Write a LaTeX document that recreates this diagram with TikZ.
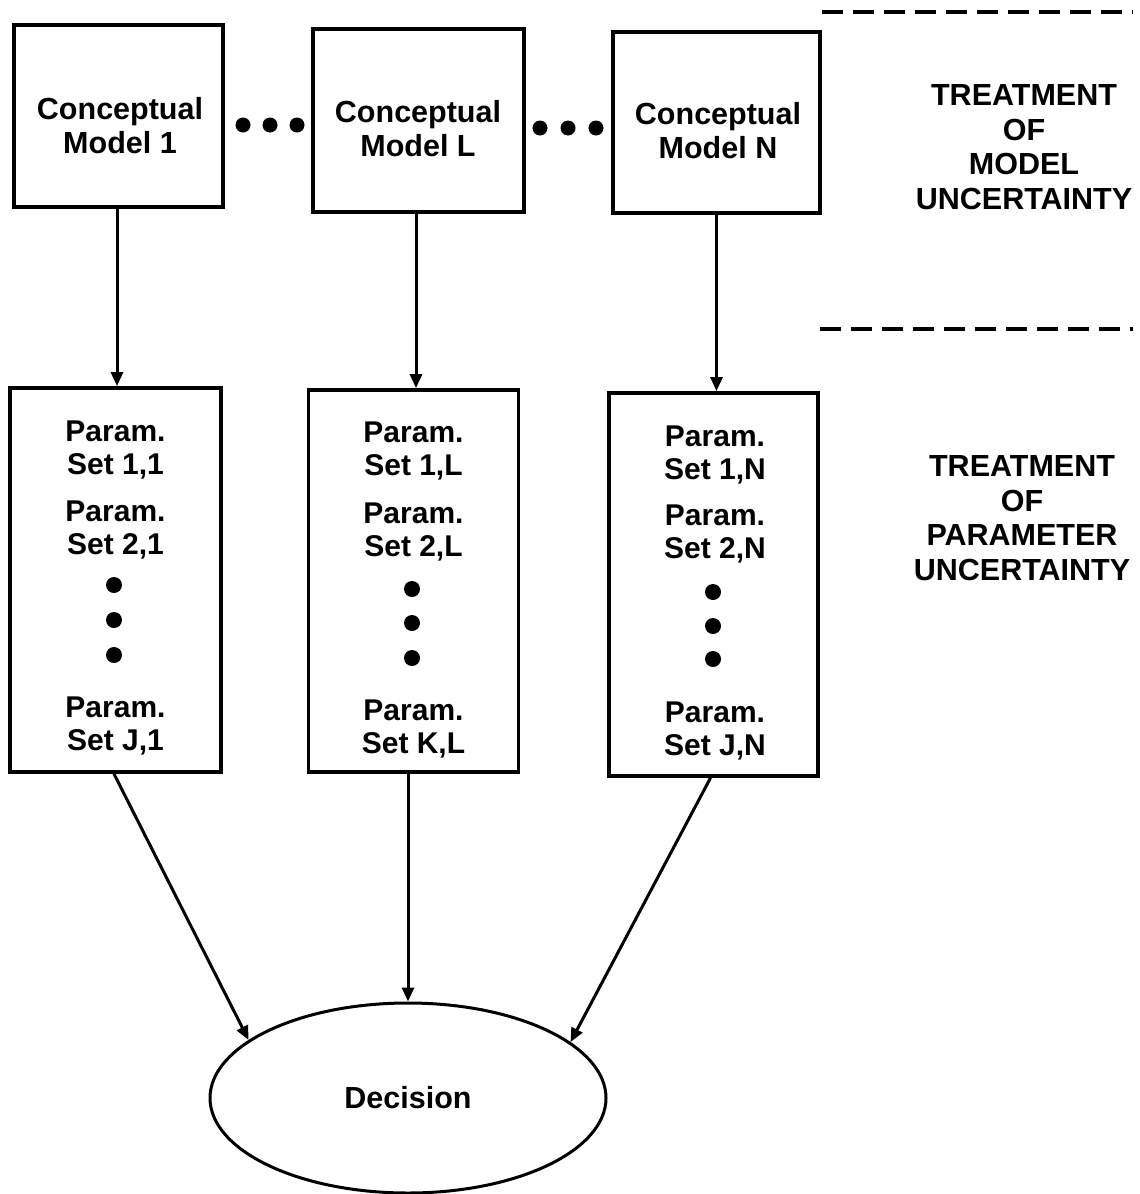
\documentclass[tikz,border=0pt]{standalone}
\usepackage{fontspec}
\setmainfont{Liberation Sans}
\usetikzlibrary{arrows.meta,shapes.geometric}
\begin{document}
\begin{tikzpicture}[x=1pt,y=-1pt,
  every node/.style={font=\fontsize{30.5}{34}\selectfont\bfseries},
  topbox/.style={draw,line width=4pt,rectangle,inner sep=0pt},
  parbox/.style={draw,line width=3.8pt,rectangle,inner sep=0pt},
  lbl/.style={align=center,inner sep=0pt},
  plbl/.style={align=center,inner sep=0pt,font=\fontsize{30}{33}\selectfont\bfseries},
  arr/.style={line width=3pt,-{Triangle[length=14pt,width=12pt]}},
  bigdot/.style={circle,fill=black,inner sep=0pt,minimum size=15pt},
  sep/.style={line width=3.5pt,dash pattern=on 21pt off 10pt}]
\useasboundingbox (0,0) rectangle (1140,1194);
% top boxes
\node[topbox,minimum width=209pt,minimum height=182pt] (m1) at (118.5,116) {};
\node[topbox,minimum width=211pt,minimum height=183pt] (mL) at (418.5,120.5) {};
\node[topbox,minimum width=207pt,minimum height=181pt] (mN) at (716.5,122.5) {};
\node[lbl] (t1) at (120,126) {Conceptual\\Model 1};
\node[lbl] (tL) at (418,129) {Conceptual\\Model L};
\node[lbl] (tN) at (718,131) {Conceptual\\Model N};
% dots between top boxes
\node[bigdot] (d1) at (243,125) {};
\node[bigdot] (d2) at (270,125) {};
\node[bigdot] (d3) at (297,125) {};
\node[bigdot] (d4) at (540,128) {};
\node[bigdot] (d5) at (568,128) {};
\node[bigdot] (d6) at (596,128) {};
% parameter boxes
\node[parbox,minimum width=211pt,minimum height=384pt] (p1) at (115.5,580) {};
\node[parbox,minimum width=210pt,minimum height=382pt] (pL) at (413.5,581) {};
\node[parbox,minimum width=209pt,minimum height=383pt] (pN) at (713.5,584.5) {};
% texts in param boxes
\node[plbl] (a1) at (115.5,450) {Param.\\Set 1,1};
\node[plbl] (b1) at (115.5,529.5) {Param.\\Set 2,1};
\node[bigdot,minimum height=16pt] (e1) at (114,585) {};
\node[bigdot,minimum height=16pt] (f1) at (114,620) {};
\node[bigdot,minimum height=16pt] (g1) at (114,655) {};
\node[plbl] (c1) at (115.5,726) {Param.\\Set J,1};
\node[plbl] (aL) at (413.5,451) {Param.\\Set 1,L};
\node[plbl] (bL) at (413.5,532) {Param.\\Set 2,L};
\node[bigdot,minimum height=16pt] (eL) at (412,589) {};
\node[bigdot,minimum height=16pt] (fL) at (412,623) {};
\node[bigdot,minimum height=16pt] (gL) at (412,658) {};
\node[plbl] (cL) at (413.5,728.5) {Param.\\Set K,L};
\node[plbl] (aN) at (715,454.5) {Param.\\Set 1,N};
\node[plbl] (bN) at (715,533.5) {Param.\\Set 2,N};
\node[bigdot,minimum height=16pt] (eN) at (713,592) {};
\node[bigdot,minimum height=16pt] (fN) at (713,626) {};
\node[bigdot,minimum height=16pt] (gN) at (713,659) {};
\node[plbl] (cN) at (715,730.5) {Param.\\Set J,N};
% decision ellipse
\node[ellipse,draw,line width=3pt,minimum width=396pt,minimum height=190pt,inner sep=0pt] (dec) at (408,1098) {Decision};
% side labels
\node[lbl,font=\fontsize{30.5}{34.5}\selectfont\bfseries] (tm) at (1024,147) {TREATMENT\\OF\\MODEL\\UNCERTAINTY};
\node[lbl,font=\fontsize{30.5}{34.5}\selectfont\bfseries] (tp) at (1022,518) {TREATMENT\\OF\\PARAMETER\\UNCERTAINTY};
% dashed separators
\coordinate (s1a) at (822,12);
\coordinate (s1b) at (1133,12);
\coordinate (s2a) at (820,329);
\coordinate (s2b) at (1133,329);
\draw[sep] (s1a) -- (s1b);
\draw[sep] (s2a) -- (s2b);
% arrows
\draw[arr] ([xshift=-1.5pt]m1.south) -- ([xshift=-1.5pt]m1.south |- p1.north);
\draw[arr] ([xshift=-2.5pt]mL.south) -- ([xshift=-2.5pt]mL.south |- pL.north);
\draw[arr] (mN.south) -- (mN.south |- pN.north);
\draw[arr] ([xshift=-1.5pt]p1.south) -- (dec.160);
\draw[arr] (dec.north |- pL.south) -- (dec.north);
\draw[arr] ([xshift=-3pt]pN.south) -- (dec.19);
\end{tikzpicture}
\end{document}
